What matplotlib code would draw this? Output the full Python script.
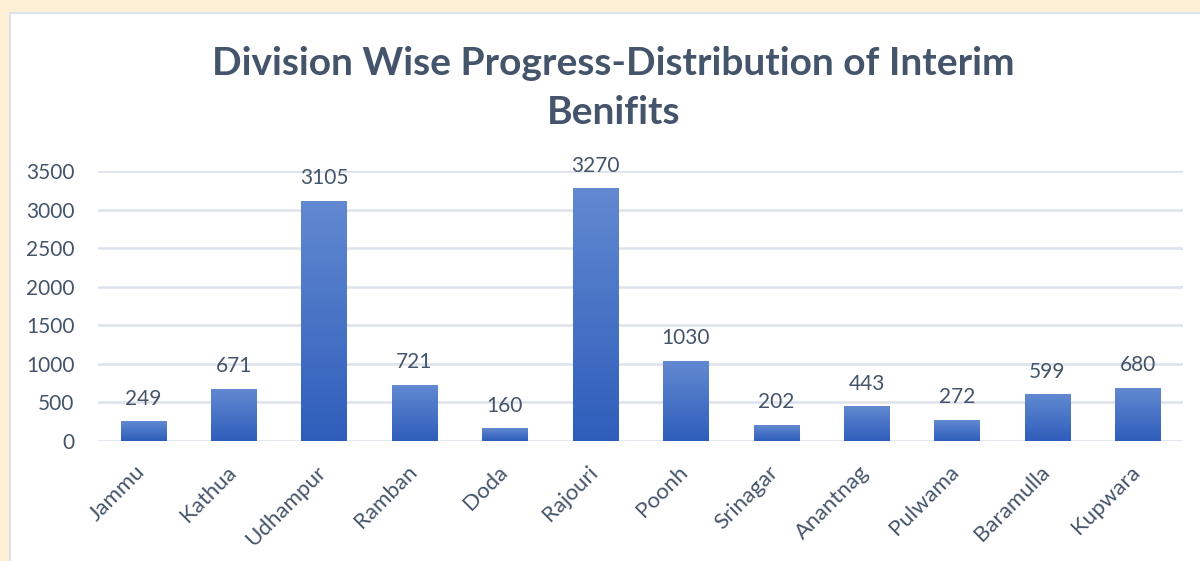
import numpy as np
import matplotlib.pyplot as plt
import matplotlib.transforms as mtransforms
from matplotlib.patches import Rectangle
from matplotlib.colors import LinearSegmentedColormap

divisions = ['Jammu', 'Kathua', 'Udhampur', 'Ramban', 'Doda', 'Rajouri',
             'Poonh', 'Srinagar', 'Anantnag', 'Pulwama', 'Baramulla', 'Kupwara']
benefits = [249, 671, 3105, 721, 160, 3270, 1030, 202, 443, 272, 599, 680]
yticks = [0, 500, 1000, 1500, 2000, 2500, 3000, 3500]

plt.rcParams['font.family'] = ['Lato', 'DejaVu Sans']
text_col = '#44546A'

fig = plt.figure(figsize=(12, 5.61), dpi=100)
fig.patch.set_facecolor('#FCEFD6')
# white chart panel
fig.patches.append(Rectangle((10 / 1200, -0.01), 1.0, (561 - 13) / 561 + 0.01,
                             transform=fig.transFigure, facecolor='white',
                             edgecolor='#DCE1EA', linewidth=1.5, zorder=-5))

ax = fig.add_axes([98 / 1200, (561 - 441) / 561, (1183 - 98) / 1200, 270 / 561])
ax.set_facecolor('none')

cmap = LinearSegmentedColormap.from_list('bar', ['#2E5EBB', '#6289D1'])
grad = np.linspace(0, 1, 256).reshape(-1, 1)
w = 0.5
for i, v in enumerate(benefits):
    ax.imshow(grad, cmap=cmap, origin='lower', aspect='auto',
              extent=[i - w / 2, i + w / 2, 0, v], zorder=3)
    ax.text(i, v + 170, str(v), ha='center', va='bottom', fontsize=15,
            color=text_col, zorder=4)
ax.set_xlim(-0.5, len(divisions) - 0.5)
ax.set_ylim(0, 3500)

ax.set_yticks(yticks)
ax.grid(axis='y', color='#DDE2EB', linewidth=1.8, zorder=0)
ax.set_axisbelow(True)
ax.set_xticks(range(len(divisions)))
ax.set_xticklabels(divisions, rotation=45, ha='right', rotation_mode='anchor')
ax.tick_params(axis='both', length=0, labelcolor=text_col)
ax.tick_params(axis='y', pad=17, labelsize=15)
ax.tick_params(axis='x', pad=15, labelsize=16)
shift = mtransforms.ScaledTranslation(-8 / 100, 0, fig.dpi_scale_trans)
for lab in ax.get_xticklabels():
    lab.set_transform(lab.get_transform() + shift)
for s in ax.spines.values():
    s.set_visible(False)

fig.text(0.511, 1 - 88 / 561, 'Division Wise Progress-Distribution of Interim\nBenifits',
         ha='center', va='center', fontsize=28, fontweight='bold',
         color=text_col, linespacing=1.45)

fig.savefig('out.png', dpi=100, facecolor=fig.get_facecolor())
